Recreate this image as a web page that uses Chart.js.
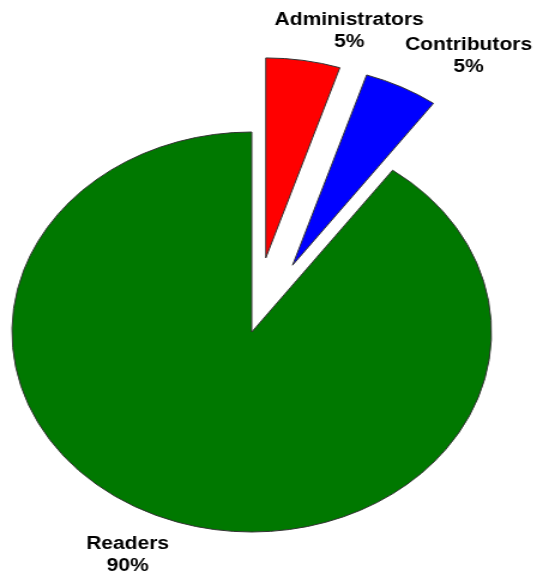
<!DOCTYPE html>
<html>
<head>
<meta charset="utf-8">
<script src="https://cdn.jsdelivr.net/npm/chart.js@4/dist/chart.umd.min.js"></script>
<style>
    body { margin: 0; background: #fff; }
</style>
</head>
<body>
<!-- drawn at 448 wide and stretched to 537 so the pie comes out oval like the original -->
<canvas id="userChart" width="448" height="573" style="width: 537px; height: 573px;"></canvas>
<script>
// data
const categories = ['Administrators', 'Contributors', 'Readers'];
const shares = [5, 5, 90];
const sliceColors = ['#ff0000', '#0000ff', '#007800'];
const pulledOut = [300, 300, 0];

// label placement, per slice: extra distance past the rim and turn in degrees
const labelGap = [38, 56, 45];
const labelTurn = [8, 8, 7];

// Chart.js grows a pulled-out slice and trims its angle, undo that
const keepSliceShape = {
    id: 'keepSliceShape',
    afterDatasetUpdate: function (chart, args) {
        args.meta.data.forEach(function (arc) {
            let push = (arc.options.offset || 0) / 4;
            if (!push) return;
            let fix = 1 - Math.sin(Math.min(Math.PI, arc.circumference));
            let grow = push * fix;
            let r = arc.outerRadius;
            let widen = grow / (2 * Math.PI * r);
            arc.outerRadius = r - grow;
            arc.startAngle -= widen;
            arc.endAngle += widen;
        });
    }
};

const sliceLabels = {
    id: 'sliceLabels',
    afterDatasetsDraw: function (chart) {
        let meta = chart.getDatasetMeta(0);
        let radius = meta.controller.outerRadius;
        let total = shares.reduce((a, b) => a + b, 0);
        let ctx = chart.ctx;
        ctx.save();
        ctx.font = 'bold 17.5px "Liberation Sans", Arial, sans-serif';
        ctx.fillStyle = '#000';
        ctx.textAlign = 'center';
        ctx.textBaseline = 'alphabetic';
        meta.data.forEach(function (arc, i) {
            let mid = (arc.startAngle + arc.endAngle) / 2;
            let push = (arc.options.offset || 0) / 4;
            let ax = arc.x + Math.cos(mid) * push;
            let ay = arc.y + Math.sin(mid) * push;
            let a = mid + labelTurn[i] * Math.PI / 180;
            let d = radius + labelGap[i];
            let x = ax + Math.cos(a) * d;
            let y = ay + Math.sin(a) * d;
            let pct = Math.round(shares[i] / total * 100) + '%';
            ctx.fillText(categories[i], x, y - 5);
            ctx.fillText(pct, x, y + 16.5);
        });
        ctx.restore();
    }
};

let ctx = document.getElementById('userChart').getContext('2d');

let chart = new Chart(ctx, {
    type: 'pie',
    data: {
        labels: categories,
        datasets: [{
            data: shares,
            backgroundColor: sliceColors,
            borderColor: '#333',
            borderWidth: 1,
            offset: pulledOut
        }]
    },
    options: {
        responsive: false,
        devicePixelRatio: 1,
        animation: false,
        radius: 200,
        layout: {
            padding: { left: 0, right: 28, top: 91, bottom: 0 }
        },
        plugins: {
            legend: { display: false },
            tooltip: { enabled: false }
        }
    },
    plugins: [keepSliceShape, sliceLabels]
});
</script>
</body>
</html>
